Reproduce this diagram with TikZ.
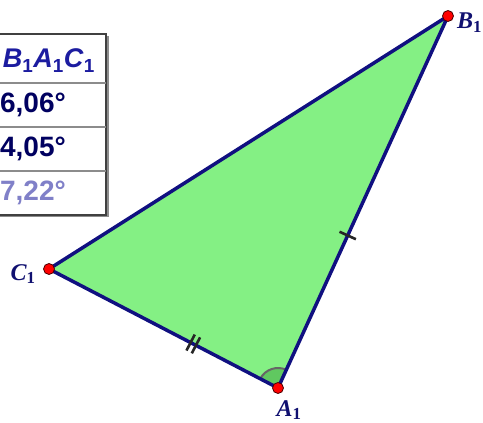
\documentclass[tikz,border=0pt]{standalone}
\usepackage{fontspec}
\setmainfont{Liberation Serif}
\newfontfamily\tabfont{Liberation Sans}
\usetikzlibrary{calc}
\definecolor{trifill}{RGB}{132,240,132}
\definecolor{angfill}{RGB}{96,200,96}
\definecolor{edgecol}{RGB}{16,16,128}
\definecolor{headcol}{RGB}{28,28,160}
\definecolor{valcol}{RGB}{0,0,96}
\definecolor{valpale}{RGB}{128,128,200}
\definecolor{labcol}{RGB}{16,16,112}
\tikzset{
  edge/.style={draw=edgecol, line width=3.5pt, line join=round},
  tickmark/.style={draw=black!85, line width=2.6pt},
  ptdot/.style={circle, fill=red, draw=black!70!red, line width=0.8pt, inner sep=0pt, minimum size=11pt},
  ptlabel/.style={font=\fontsize{24}{24}\selectfont\bfseries\itshape, text=labcol, inner sep=0pt},
  tabtext/.style={font=\tabfont\fontsize{28}{28}\selectfont\bfseries, inner sep=0pt, anchor=base east},
  sepline/.style={draw=black!45, line width=1.2pt}
}
\begin{document}
\begin{tikzpicture}[x=1pt,y=1pt]
\useasboundingbox (0,0) rectangle (483,423);
% table
\fill[black!45] (-20,206) rectangle (108.5,387);
\draw[fill=white, draw=black!75, line width=1.2pt] (-20,208) rectangle (106,389);
\draw[sepline] (-20,340) -- (106,340);
\draw[sepline] (-20,296) -- (106,296);
\draw[sepline] (-20,252) -- (106,252);
\node[tabtext, text=headcol, font=\tabfont\fontsize{27}{27}\selectfont\bfseries] (hd) at (95,355)
  {\textit{B}\textsubscript{1}\textit{A}\textsubscript{1}\textit{C}\textsubscript{1}};
\node[tabtext, text=valcol] (v1) at (66,310) {6,06°};
\node[tabtext, text=valcol] (v2) at (66,266) {4,05°};
\node[tabtext, text=valpale] (v3) at (66,222) {7,22°};
% triangle
\coordinate (A1) at (278,35);
\coordinate (B1) at (448,407);
\coordinate (C1) at (49,154);
\fill[trifill] (A1) -- (B1) -- (C1) -- cycle;
\fill[angfill] (A1) -- ($(A1)+(65.4:20)$) arc[start angle=65.4, end angle=152.5, radius=20] -- cycle;
\draw[black!60, line width=2pt] ($(A1)+(65.4:20)$) arc[start angle=65.4, end angle=152.5, radius=20];
\draw[edge] (A1) -- (B1) -- (C1) -- cycle;
% ticks
\coordinate (t1) at ($(A1)!0.41!(B1)$);
\draw[tickmark] ($(t1)!9pt!90:(B1)$) -- ($(t1)!9pt!-90:(B1)$);
\coordinate (t2) at ($(C1)!0.63!(A1)$);
\coordinate (t2a) at ($(t2)!3pt!(A1)$);
\coordinate (t2b) at ($(t2)!-3pt!(A1)$);
\draw[tickmark] ($(t2a)!9pt!90:(A1)$) -- ($(t2a)!9pt!-90:(A1)$);
\draw[tickmark] ($(t2b)!9pt!90:(A1)$) -- ($(t2b)!9pt!-90:(A1)$);
% points
\node[ptdot] (pA) at (A1) {};
\node[ptdot] (pB) at (B1) {};
\node[ptdot] (pC) at (C1) {};
\node[ptlabel, anchor=south] (lA) at (289,3) {A\textsubscript{\upshape 1}};
\node[ptlabel] (lC) at (23,149) {C\textsubscript{\upshape 1}};
\node[ptlabel, anchor=west] (lB) at (457,400) {B\textsubscript{\upshape 1}};
\end{tikzpicture}
\end{document}
